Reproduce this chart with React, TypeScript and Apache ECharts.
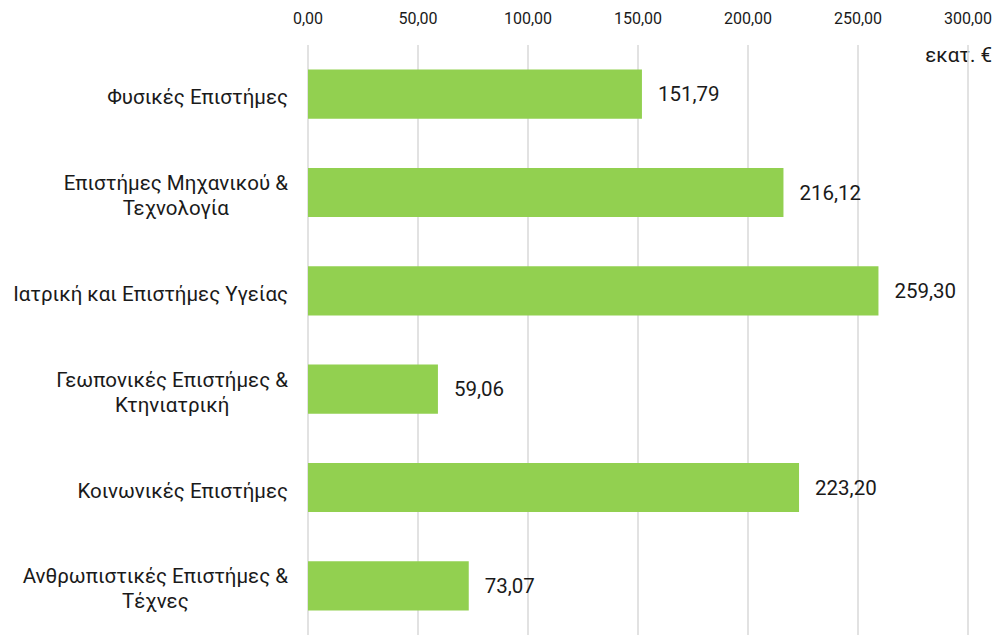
import React, { useEffect, useRef } from "react";
import * as echarts from "echarts";

const categories: string[] = [
  "Φυσικές Επιστήμες",
  "Επιστήμες Μηχανικού &\nΤεχνολογία",
  "Ιατρική και Επιστήμες Υγείας",
  "Γεωπονικές Επιστήμες &\nΚτηνιατρική",
  "Κοινωνικές Επιστήμες",
  "Ανθρωπιστικές Επιστήμες &\nΤέχνες",
];
const values: number[] = [151.79, 216.12, 259.3, 59.06, 223.2, 73.07];
const unitLabel = "εκατ. €";
const axisMin = 0;
const axisMax = 300;
const axisInterval = 50;

const fmt = (v: number) => v.toFixed(2).replace(".", ",");

export default function App() {
  const ref = useRef<HTMLDivElement>(null);
  useEffect(() => {
    if (!ref.current) return;
    const chart = echarts.init(ref.current, null, { renderer: "svg" });
    const font = "Roboto, 'Noto Sans', sans-serif";
    chart.setOption({
      animation: false,
      backgroundColor: "#ffffff",
      grid: { left: 308, right: 29, top: 45, height: 596, containLabel: false },
      xAxis: {
        type: "value",
        position: "top",
        min: axisMin,
        max: axisMax,
        interval: axisInterval,
        axisLine: { show: false },
        axisTick: { show: false },
        axisLabel: {
          formatter: (v: number) => fmt(v),
          fontFamily: font,
          fontSize: 16,
          color: "#1a1a1a",
          margin: 19,
        },
        splitLine: { show: true, lineStyle: { color: "#d9d9d9", width: 1.5 } },
      },
      yAxis: {
        type: "category",
        data: categories,
        inverse: true,
        axisLine: { show: false },
        axisTick: { show: false },
        axisLabel: {
          margin: 20,
          align: "right",
          fontFamily: font,
          fontSize: 20.5,
          color: "#1a1a1a",
          lineHeight: 25,
          padding: [6, 0, 0, 0],
          formatter: (v: string) =>
            v
              .split("\n")
              .map((l) => `{c|${l}}`)
              .join("\n"),
          rich: {
            c: {
              align: "center",
              fontFamily: font,
              fontSize: 20.5,
              color: "#1a1a1a",
              lineHeight: 25,
            },
          },
        },
      },
      series: [
        {
          type: "bar",
          data: values,
          barWidth: "50%",
          itemStyle: { color: "#92D050" },
          label: {
            show: true,
            position: "right",
            distance: 16,
            padding: [5, 0, 0, 0],
            formatter: (p: any) => fmt(p.value),
            fontFamily: font,
            fontSize: 20.5,
            color: "#1a1a1a",
          },
        },
      ],
      graphic: [
        {
          type: "text",
          right: 5,
          top: 44,
          style: {
            text: unitLabel,
            fontFamily: font,
            fontSize: 20.5,
            fill: "#1a1a1a",
          },
        },
      ],
    });
    return () => chart.dispose();
  }, []);
  return (
    <div
      ref={ref}
      style={{ position: "fixed", left: 0, top: 0, width: 997, height: 635 }}
    />
  );
}
